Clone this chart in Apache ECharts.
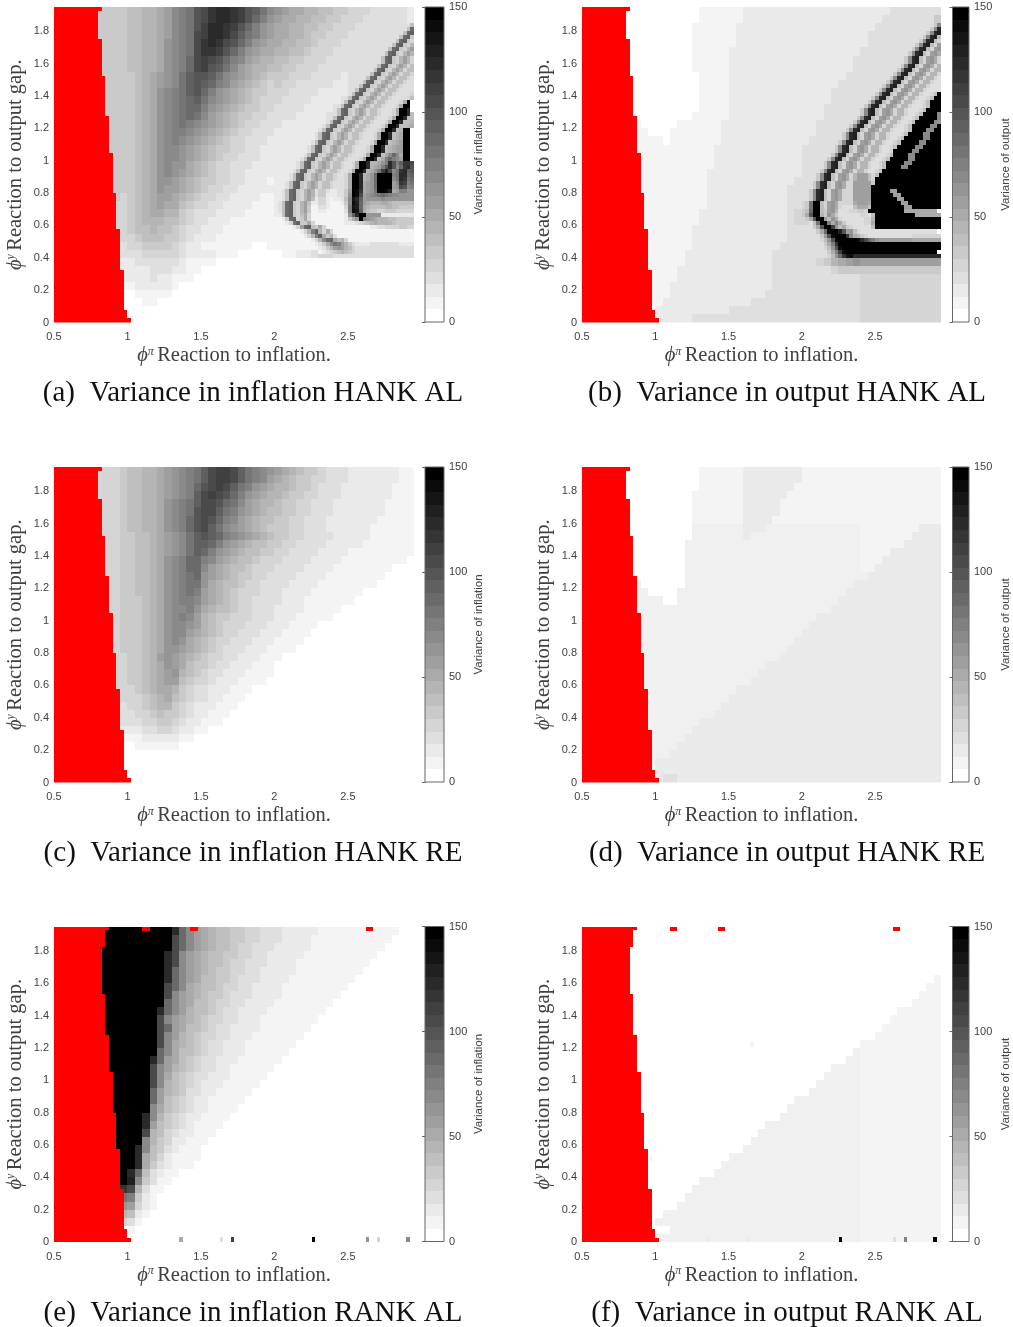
<!DOCTYPE html>
<html><head><meta charset="utf-8">
<style>html,body{margin:0;padding:0;background:#fff}#c{width:1013px;height:1327px}</style>
<script src="https://cdn.jsdelivr.net/npm/echarts@6/dist/echarts.min.js"></script>
</head><body><div id="c"></div>
<script>
const captions=["(a)  Variance in inflation HANK AL","(b)  Variance in output HANK AL","(c)  Variance in inflation HANK RE","(d)  Variance in output HANK RE","(e)  Variance in inflation RANK AL","(f)  Variance in output RANK AL"];
const barNames=["Variance of inflation","Variance of output","Variance of inflation","Variance of output","Variance of inflation","Variance of output"];
// shade index per cell (0-9,a-o = 0..24 of the 25 colour steps; x = a pale step between 1 and 2), top row first, phi from 0.5 in 0.05 steps
const rowsA=[
"......5555 667789bcdg hjkkjigfdb a988776655 444333332",
"......5555 667789bcdg hjkkjigeca 9887766554 443333332",
"......5555 667789bcdg ikkjigeca9 8877665544 43333333",
"......5555 667789bcdh ikkjhfdca9 8877655444 3333333",
"......5555 66778abcdh jkjhgeca98 8776654443 333333",
"......5555 66778abcdh jjigeca988 7766544433 33333",
"......5555 66778abceh ihgecb9877 6655444333 3333",
"......5555 66778abceh igfdb98776 6554443333 3333",
"......5555 56789abdfg gfdba98765 5544433332 333",
".......555 56789abdfg fecb987654 5443333322 33",
".......555 5678abcdfg eca9876554 4433332222 3",
".......555 5678abcdef dba9876544 4333322223",
".......555 5678abcdee ca98765544 333322223",
".......555 5678abcded b987655443 333222233",
".......555 5678abcdcb a987654433 32222222",
".......555 5678abccba 9876544333 2222222",
".......555 5678abcba9 8765443332 222222",
".......555 5678abba98 7655443322 22222",
"........55 5678abba98 7654433322 22222",
"........55 5678abaa87 6544333222 2222",
"........55 5678aba987 6544332222 222",
"........55 5678aa9876 5544332221 222",
"........55 5678a99876 5443322222 22",
"........54 5678998765 4433222211 22",
"........44 5678988654 4332222111 2",
"........44 5678877543 3322221111 2",
"........44 5677766543 3222111111 1",
"........44 5667665433 2221111111 1111",
".........4 4566655432 2211111111 11111",
".........3 4455554322 1111111001 111112",
".........3 3344444322 2211100000 0112234433 333333333",
".........2 2333333211 11",
".........2 2223332211",
".........2 2223221110",
".........1 1222221",
".........0 011111",
".........0 0011",
"..........",
".........."];
// finer cells for the ribbons, phi and y in 0.025 steps: [y step, phi step, shades running right]
const fineA=[
[73,96,"36"],[72,95,"36e"],[71,94,"36ef"],[70,93,"36ef5"],[69,92,"36ef54"],[68,91,"36ef547"],[67,90,"36ef5479"],[66,89,"36ef54797"],
[65,88,"36ef547974"],[64,88,"36ef547974"],[63,87,"36ef5479746"],[62,86,"36ef54797466"],[61,85,"36ef547974664"],[60,84,"36ef5479746643"],
[59,83,"36ef54797466433"],[58,82,"36ef547974664333"],[57,81,"36ef5479746643333"],[56,80,"36ef54797466433334"],[55,79,"36ef547974664333346"],
[54,78,"36ef54797466433348o"],[53,77,"36ef54797466433348oo"],[52,76,"36ef54797466433348ook"],[51,76,"36ef54797466433348ook6"],[50,75,"36ef54797466433348ook66"],
[49,74,"36ef54797466433348ook667"],[48,73,"36ef54797466433348ook6678"],[47,72,"36ef54797466433348ook67oo"],[46,71,"36ef54797466433348ook678oo"],[45,71,"36ef54797466433348ook678oo"],
[44,70,"36ef54797466433348ook6789oo"],[43,69,"36ef54797466433348ook67899oo"],[42,69,"36ef54797466433348ook67899oo"],[41,68,"36ef54797466433348ook68beb8oo"],[40,67,"36ef54797466433348ook68cecb9oo"],
[39,66,"36ef5479746643348ook778ackgcfjjh"],[38,66,"36ef5479746643348ook789cgkgbejkg"],[37,65,"36ef5479746643348ook78adilhbdjkfg"],[36,64,"36ef5479746643348ook78aeoooocdkkef"],[35,64,"36ef5479746643348ook78aeoooobdkjde"],
[34,63,"36ef54797466433348ook89aeoooo9bjicd"],[33,63,"36ef54797466433348ook89aeoooo9ahgbc"],
[32,62,"36ef547973553223359onj89adoonl89ccaa"],[31,62,"36ef54797355222335aonh9abcdedcbbaaaa"],[30,62,"36ef54796244212236bmkf9aaaabaaaaaaaa"],
[29,61,"36ef547962244211125bnle98777887666666"],[28,61,"36ef547951133211114cmle87666677665555"],[27,61,"36ef547951122111113cnmf86554455544444"],
[26,61,"26ef546841111111112afkooaaaa222222222"],[25,61,"125ef4584111111111258aoca987776655555"],[24,62,"124df5584111111112223456787777655555"],
[23,64,"1249ef658411111111111122334444554444"],[22,66,"1247cf74841111111111111111111111"],[21,67,"1247cf8573111111111111111111111"],[20,68,"11247bee8674111111111111111111"],
[19,70,"12358bdc97532222333333332222"],[18,70,"1123579a976433333333333333333"],[17,72,"12345676543333333333333333"]];
const rowsB=[
"......0000 0000001111 1122222222 2222222222 223333333",
"......0000 0000001111 1122222222 2222222222 233333335",
"......0000 0000011111 1222222222 2222222222 33333333",
"......0000 0000011111 1222222222 2222222223 3333333",
"......0000 0000011111 1222222222 2222222223 333333",
"......0000 0000011111 2222222222 2222222233 33333",
"......0000 0000011111 2222222222 2222222333 3333",
"......0000 0000011111 2222222222 2222222333 3333",
"......0000 0000001111 2222222222 2222223333 333",
".......000 0000001111 2222222222 2222233333 33",
".......000 0000001111 2222222222 2222333333 3",
".......000 0000001111 2222222222 2222333333",
".......000 0000001111 2222222222 222333333",
".......000 0000011111 2222222222 222333333",
".......100 0001111112 2222222222 22333333",
".......110 0011111112 2222222222 2233333",
".......111 1011111112 2222222222 233333",
".......111 1111111122 2222222222 33333",
"........11 1111111122 2222222222 33333",
"........11 1111111122 2222222222 3333",
"........11 1111111222 2222222222 333",
"........11 1111111222 2222222223 333",
"........11 1111111222 2222222233 33",
"........11 1111111222 2222222233 33",
"........11 1111111222 2222222233 4",
"........11 1111112222 2222222234 5",
"........11 1111112222 2222222234 4",
"........11 1111122222 2222222233 3",
".........1 1111122222 2222222233 3",
".........1 1111122222 2222222333 3",
".........1 1111222222 2222223333 3",
".........1 1111222222 2222223333 3345789a99 999999999",
".........1 1112222222 2222223333 3333455555 555555555",
".........1 1112222222 2222223333 3333333344 444444444",
".........1 1122222222 2222223333 3333333344 444444444",
".........1 1122222222 2222233333 3333333344 444444444",
".........1 1222222222 2223333333 3333333344 444444444",
"..........2222222222 3333333333 3333333344 444444444",
"..........2222233333 3333333333 3333333344 444444444"];
const fineB=[
[73,96,"5b"],[72,95,"5bk"],[71,94,"5bkl"],[70,93,"5bkl6"],[69,92,"5bkl64"],[68,91,"5bkl649"],[67,90,"5bkl649a"],[66,89,"5bkl649a8"],
[65,88,"5bkl649a84"],[64,88,"5bkl649a84"],[63,87,"5bkl649a847"],[62,86,"5bkl649a8477"],[61,85,"5bkl649a84774"],[60,84,"5bkl649a847743"],
[59,83,"5bkl649a8477433"],[58,82,"5bkl649a84774333"],[57,81,"5bkl649a847743333"],[56,80,"5bkl649a847743346o"],[55,79,"5bkl649a847743346oo"],
[54,78,"5bkl649a847743346ooo"],[53,77,"5bkl649a8477433346ooo"],[52,76,"5bkl649a8477433346oooo"],[51,76,"5bkl649a847743346oooob"],[50,75,"5bkl649a847743346ooooob"],
[49,74,"5bkl649a847743346oooooba"],[48,73,"5bkl649a847743346ooooobbo"],[47,72,"5bkl649a8477433346oooobboo"],[46,71,"5bkl649a8477433346oooobbooo"],[45,71,"5bkl649a847743346ooooobbooo"],
[44,70,"5bkl649a847743346ooooobboooo"],[43,69,"5bkl649a847743346ooooobbooooo"],[42,69,"5bkl649a84774334ooooobboooooo"],[41,68,"5bkl649a847743346oooobbooooooo"],[40,67,"5bkl649a847743346ooooobbooooooo"],
[39,66,"5bkl649a847743346ooooobboooooooo"],[38,66,"5bkl649a847743346oooobbooooooooo"],[37,65,"5bkl649a847743346oooooooooooooooo"],
[36,64,"5bkl649a847999646ooooooooooooooooo"],[35,64,"5bkl649a84799964oooooooooooooooooo"],[34,63,"5bkl649a844999995oooooooooooooooooo"],[33,63,"5bkl649a84499999ooooooooooooooooooo"],
[32,62,"5bkl649a844499999ooooo99oooooooooooo"],[31,62,"5bkl649a844499999oooooo99ooooooooooo"],[30,62,"5bkl649a844499999ooooooo99oooooooooo"],
[29,61,"5doo649a8444489998oooooooo99ooooooooo"],[28,61,"5doo649a8433368886ooooooooo99oooooooo"],[27,61,"6eoo659a733344554oooooooooo888888888"],
[26,61,"8goo75a853333334436ooooooooooo8888888"],[25,61,"58goo96a84333333447oooooooooooooooooo"],[24,62,"36dooc8b8533333448oooooooooooooooooo"],
[23,61,"3358gooia6854333336oooooooooooooooooo"],[22,61,"33358enoolg9a64333333333333333333333"],[21,61,"333359gnooojb875433333333333344444444"],
[20,61,"33334 6agnooooonkhecа99999999988888888".replace("а","a")],[19,61,"3333358cjoooooooooooooooooooooooooooooo"],[18,61,"333334 6agnooooooooooooooooooooooooooo"],
[17,61,"333333 58cinooooooooooooooooooooooooo"],[16,61,"33333346aejmnkkkkkkkkkkkkkkkkkkkkkkkk"]];
const rowsC=[
"......4445 667789abcd fhiihfdcba 9876554333 222222211",
"......4445 667789abcd fhiihfdcb9 8765544333 222222211",
"......4445 667789abce ghihfdca98 7765543332 222222111",
"......4445 667789abcf hihgeca987 7655443332 222222111",
"......4445 66778abcdf hhgedb9877 6554433322 222221111",
"......4445 66778abcdg hhfdca9876 6554433322 222221111",
"......4445 66778abceg hgecb98766 5544333222 222211111",
"......4445 66778abceg hfdba98765 5544333222 222111111",
"......4445 566789abdf gfecba9876 5544333322 222111111",
".......445 566789abdf feca987665 5443333222 221111111",
".......445 566789abdf eca9876655 4433332222 111111111",
".......445 56678abcee cb98766544 4333322221 111111110",
".......445 56678abcee b987665444 3333222211 111111",
".......445 56678abcde a987655443 3332222111 11111",
".......445 56678abcdd a876654433 3322221111 1111",
".......445 56678abcdc 9876544433 3222211111 11",
".......445 55678abccb 9876544333 3222111111 1",
".......445 55678abbca 8766544333 2222111110",
"........45 55678abcb9 7655444333 2221111100",
"........45 55678abba9 7654443332 2211110000",
"........45 55678abb98 7654433322 2111100000",
"........45 55678aba87 6544333222 1111",
"........45 55678aa987 6543332221 111",
"........44 55679a9876 5443322211 1",
"........44 55678a9865 5433222111",
"........44 556789a765 4332221111",
"........44 5567899654 4322211110",
"........44 4567887543 3222111",
".........4 4456786543 322111",
".........3 4456775432 22111",
".........3 3445655432 2111",
".........3 3344554322 111",
".........2 2233443221 1",
".........1 1122222110",
".........0 0111111",
".........",
".........",
"..........",
".........."];
const rowsD=[
"......0000 0000001111 1122222222 1111111111 111111111",
"......0000 0000001111 1122222222 1111111111 111111111",
"......0000 0000001111 1122222221 1111111111 111111111",
"......0000 0000011111 1122222211 1111111111 111111111",
"......0000 0000011111 1122222111 1111111111 111111111",
"......0000 0000011111 1122222111 1111111111 111111111",
"......0000 0000011111 1122221111 1111111111 111111111",
"......0000 00000xxxxx xx222xxxxx xxxxxxxx11 111111222",
"......0000 00000xxxxx xx2xxxxxxx xxxxxxxx11 111112222",
".......000 0000xxxxxx xxxxxxxxxx xxxxxxxx11 111122222",
".......000 0000xxxxxx xxxxxxxxxx xxxxxxxx11 112222222",
".......000 0000xxxxxx xxxxxxxxxx xxxxxxxx11 122222222",
".......000 0000xxxxxx xxxxxxxxxx xxxxxxxx11 222222222",
".......000 0000xxxxxx xxxxxxxxxx xxxxxxxxx2 222222222",
".......x00 0000xxxxxx xxxxxxxxxx xxxxxxx222 222222222",
".......xx0 000xxxxxxx xxxxxxxxxx xxxxxx2222 222222222",
".......xxx x00xxxxxxx xxxxxxxxxx xxxxx22222 222222222",
".......xxx xxxxxxxxxx xxxxxxxxxx xxxx222222 222222222",
"........xx xxxxxxxxxx xxxxxxxxxx xx22222222 222222222",
"........xx xxxxxxxxxx xxxxxxxxxx x222222222 222222222",
"........xx xxxxxxxxxx xxxxxxxxxx 2222222222 222222222",
"........xx xxxxxxxxxx xxxxxxxxx2 2222222222 222222222",
"........xx xxxxxxxxxx xxxxxxxx22 2222222222 222222222",
"........xx xxxxxxxxxx xxxxxxx222 2222222222 222222222",
"........xx xxxxxxxxxx xxxxx22222 2222222222 222222222",
"........xx xxxxxxxxxx xxxx222222 2222222222 222222222",
"........xx xxxxxxxxxx xxx2222222 2222222222 222222222",
"........xx xxxxxxxxxx x222222222 2222222222 222222222",
".........x xxxxxxxxxx 2222222222 2222222222 222222222",
".........x xxxxxxxxx2 2222222222 2222222222 222222222",
".........x xxxxxxxx22 2222222222 2222222222 222222222",
".........x xxxxxx2222 2222222222 2222222222 222222222",
".........x xxxxx22222 2222222222 2222222222 222222222",
".........x xxxx222222 2222222222 2222222222 222222222",
".........x xxx2222222 2222222222 2222222222 222222222",
".........x xx22222222 2222222222 2222222222 222222222",
".........x 2222222222 2222222222 2222222222 222222222",
"..........2222222222 2222222222 2222222222 222222222",
"..........2332222222 2222222222 2222222222 222222222"];
const rowsE=[
"......oooo oooooo keb9 8766554433 3222221111 11111110",
"......oooo oooooo heb9 8766554433 3222211111 111111",
"......oooo oooooo heb9 8766544333 2222211111 11111",
"......oooo oooookhb98 7665544332 2222111111 1111",
"......oooo oooookhb98 7665443332 2221111111 111",
"......oooo oooookeb98 7655443322 2221111111 11",
"......oooo oooookeb98 6655433322 2211111111 1",
"......oooo oooooheb87 6654433222 2111111111",
"......oooo oooooh b987 6554333222 211111111",
"......oooo oooooeb986 6544332222 1111111100",
"......oooo oooo keb976 6543322221 1111111000",
"......oooo ooooh b9876 5443322211 111111",
"......oooo oooohe9866 5433222211 11111",
"......oooo ooooh b9765 4433222111 1111",
"......oooo ooooh b8765 4332221111 111",
"......oooo oooo eb8665 4332221111 11",
"......oooo oook e98654 3322211111 1",
"......oooo oooh b97654 3322111111",
"........oo oooh b86543 3222111110",
"........oo oooh b76543 2221111100",
"........oo oooe 976533 2211111000",
"........oo oooe 965432 2111110",
"........oo ooob865432 21111",
"........oo ookb754322 1111",
"........oo ook9654321 111",
"........oo ooh7643221 11",
"........oo oob7542211 1",
"........oo okb6532111",
".........o ok86421111",
".........o ok8532111",
".........o ke63211",
".........o lb5311",
".........j h7311",
".........d c521",
".........a 9421",
".........7 621",
".........4 31",
"..........1",
".........."];
const rowsF=[
"......","......","......","......","......","......",
"......0000 0000000000 0000000000 0000000000 000000001",
"......0000 0000000000 0000000000 0000000000 000000011",
".......000 0000000000 0000000000 0000000000 000000111",
".......000 0000000000 0000000000 0000000000 000001111",
".......000 0000000000 0000000000 0000000000 000111111",
".......000 0000000000 0000000000 0000000000 001111111",
".......000 0000000000 0000000000 0000000000 011111111",
".......000 0000000000 0000000000 0000000000 111111111",
".......000 0000000000 0000000000 0000000011 111111111",
".......000 0000000000 0000000000 0000000x11 111111111",
".......000 0000000000 0000000000 000000xx11 111111111",
".......000 0000000000 0000000000 0000xxxx11 111111111",
"........00 0000000000 0000000000 000xxxxx11 111111111",
"........00 0000000000 0000000000 00xxxxxx11 111111111",
"........00 0000000000 0000000000 0xxxxxxx11 111111111",
"........00 0000000000 000000000x xxxxxxxx11 111111111",
"........00 0000000000 00000000xx xxxxxxxx11 111111111",
"........00 0000000000 0000000xxx xxxxxxxx11 111111111",
"........00 0000000000 00000xxxxx xxxxxxxx11 111111111",
"........00 0000000000 0000xxxxxx xxxxxxxx11 111111111",
"........00 0000000000 000xxxxxxx xxxxxxxx11 111111111",
".........0 0000000000 00xxxxxxxx xxxxxxxx11 111111111",
".........0 0000000000 xxxxxxxxxx xxxxxxxx11 111111111",
".........0 000000000x xxxxxxxxxx xxxxxxxx11 111111111",
".........0 00000000xx xxxxxxxxxx xxxxxxxx11 111111111",
".........0 000000xxxx xxxxxxxxxx xxxxxxxx11 111111111",
".........0 00000xxxxx xxxxxxxxxx xxxxxxxx11 111111111",
".........0 0000xxxxxx xxxxxxxxxx xxxxxxxx11 111111111",
".........0 000xxxxxxx xxxxxxxxxx xxxxxxxx11 111111111",
".........0 0xxxxxxxxx xxxxxxxxxx xxxxxxxx11 111111111",
".........0 xxxxxxxxxx xxxxxxxxxx xxxxxxxx11 111111111",
"..........00xxxxxxxx xxxxxxxxxx xxxxxxxx11 111111111",
"..........xxxxxxxxxx xxxxxxxxxx xxxxxxxx11 111111111"];
// unstable region: [y from, y to, phi edge]
const redHank=[[0,.025,1.027],[.025,.075,1],[.075,.325,.975],[.325,.575,.95],[.575,.8,.925],[.8,1.05,.9],[1.05,1.275,.875],[1.275,1.525,.85],[1.525,1.75,.825],[1.75,1.925,.8],[1.925,1.95,.825]];
const redRank=[[0,.025,1.027],[.025,.08,1],[.08,.33,.975],[.33,.575,.95],[.575,.8,.925],[.8,1.05,.9],[1.05,1.28,.875],[1.28,1.53,.85],[1.53,1.825,.825],[1.825,1.93,.85],[1.93,1.95,.875]];
const redSpotsRank=[[1.1,1.15],[1.428,1.477],[2.62,2.67]];
// isolated cells: [phi, y, shade]
const spotsE=[[1.364,0,8],[1.64,0,3],[1.714,0,18],[2.266,0,24],[2.634,0,10],[2.709,0,4],[2.91,0,11]];
const spotsF=[[1.364,0,2],[1.636,0,2],[2.264,0,24],[2.632,0,3],[2.707,0,12],[2.909,0,24],[1.66,1.205,1],[.975,.5,1]];
const barSteps=Array.from({length:25},(_,k)=>k);

const PHI0=.5,CELL=.05,FINE=.025,XMAX=2.95,YMAX=1.95,BAND=6;
const ink='#404040',serif='"Liberation Serif","DejaVu Serif",serif',sans='"Liberation Sans",Arial,sans-serif';
function shade(l){if(l<0)return '#ff0000';const g=Math.round(255*(1-l/24));return `rgb(${g},${g},${g})`;}
function lvl(ch){if(ch==='x')return 1.4;return parseInt(ch,25);}
function runs(str,x0,w,y0,y1,out,keepZero){
  const s=str.replace(/ /g,'');let j=0;
  while(j<s.length){
    const ch=s[j];let e=j+1;
    while(e<s.length&&s[e]===ch)e++;
    const a=x0+j*w,b=Math.min(XMAX,x0+e*w);
    if(ch!=='.'&&(ch!=='0'||keepZero)&&a<XMAX)out.push([a,b,y0,y1,lvl(ch)]);
    j=e;
  }
}
function cells(rows){const out=[],n=rows.length;rows.forEach((r,k)=>{const i=n-1-k;runs(r,PHI0,CELL,i*CELL,(i+1)*CELL,out,false);});return out;}
function fineCells(list){const out=[];(list||[]).forEach(f=>runs(f[2],PHI0+f[1]*FINE,FINE,f[0]*FINE,(f[0]+1)*FINE,out,true));return out;}
function redCells(edge,extra){
  const a=edge.map(e=>[PHI0,e[2],e[0],e[1],-1]);
  (extra||[]).forEach(e=>a.push([e[0],e[1],1.925,1.95,-1]));
  return a;
}
function spotCells(sp){return (sp||[]).map(s=>[s[0]-.0125,s[0]+.0125,s[1],s[1]+.03,s[2]]);}
function rect(params,api){
  const a=api.coord([api.value(0),api.value(3)]),b=api.coord([api.value(1),api.value(2)]);
  const x=Math.round(a[0]),y=Math.round(a[1]);
  return {type:'rect',shape:{x,y,width:Math.round(b[0])-x,height:Math.round(b[1])-y},style:{fill:shade(api.value(4))}};
}
const panels=[[rowsA,redHank,null,null,fineA],[rowsB,redHank,null,null,fineB],[rowsC,redHank],[rowsD,redHank],[rowsE,redRank,redSpotsRank,spotsE],[rowsF,redRank,redSpotsRank,spotsF]];
const lefts=[54,582],barLefts=[425,952.5],tops=[7,467,926.5],capTop=[374,834,1294],capX=[248,782];
const grid=[],xAxis=[],yAxis=[],series=[],title=[];
const rich={p:{fontFamily:serif,fontStyle:'italic',fontSize:20.5,color:ink},s:{fontFamily:serif,fontStyle:'italic',fontSize:12,color:ink,verticalAlign:'top',lineHeight:19},t:{fontFamily:serif,fontSize:20.5,color:ink}};
panels.forEach((p,n)=>{
  const c=n%2,r=Math.floor(n/2),g=grid.length;
  grid.push({left:lefts[c],top:tops[r],width:c?359:360,height:315.5});
  xAxis.push({gridIndex:g,type:'value',min:PHI0,max:XMAX,interval:.5,axisLine:{show:false},axisTick:{show:false},splitLine:{show:false},
    axisLabel:{showMaxLabel:false,color:ink,fontFamily:sans,fontSize:11,margin:9},
    name:'{p|ϕ}{s|π} {t|Reaction to inflation.}',nameLocation:'middle',nameGap:23,nameTextStyle:{rich}});
  yAxis.push({gridIndex:g,type:'value',min:0,max:YMAX,interval:.2,axisLine:{show:false},axisTick:{show:false},splitLine:{show:false},
    axisLabel:{showMaxLabel:false,color:ink,fontFamily:sans,fontSize:11,margin:5,formatter:v=>String(Math.round(v*10)/10)},
    name:'{p|ϕ}{s|y} {t|Reaction to output gap.}',nameLocation:'middle',nameGap:28,nameRotate:90,nameTextStyle:{rich}});
  const base={type:'custom',coordinateSystem:'cartesian2d',xAxisIndex:g,yAxisIndex:g,renderItem:rect,clip:true,silent:true,animation:false,progressive:0};
  series.push(Object.assign({},base,{data:cells(p[0])}));
  series.push(Object.assign({},base,{data:fineCells(p[4])}));
  series.push(Object.assign({},base,{data:spotCells(p[3])}));
  series.push(Object.assign({},base,{data:redCells(p[1],p[2])}));
  const h=grid.length;
  grid.push({left:barLefts[c],top:tops[r],width:19,height:315});
  xAxis.push({gridIndex:h,type:'value',min:0,max:1,show:false});
  yAxis.push({gridIndex:h,type:'value',min:0,max:150,interval:50,position:'right',
    axisLine:{show:true,lineStyle:{color:'#666',width:1}},axisTick:{show:true,inside:true,length:3,lineStyle:{color:'#666'}},splitLine:{show:false},
    axisLabel:{color:ink,fontFamily:sans,fontSize:11,margin:5},
    name:barNames[n],nameLocation:'middle',nameRotate:90,nameGap:c?31:29,nameTextStyle:{color:ink,fontFamily:sans,fontSize:11.5}});
  series.push(Object.assign({},base,{xAxisIndex:h,yAxisIndex:h,data:barSteps.map(k=>[0,1,k*BAND,(k+1)*BAND,k])}));
  series.push({type:'line',xAxisIndex:h,yAxisIndex:h,data:[[0,0],[1,0],[1,150],[0,150],[0,0]],symbol:'none',silent:true,animation:false,clip:false,lineStyle:{color:'#666',width:1}});
  title.push({text:captions[n],left:capX[c],top:capTop[r],textAlign:'center',textStyle:{fontFamily:serif,fontWeight:'normal',fontSize:29,color:'#111'}});
});
const chart=echarts.init(document.getElementById('c'),null,{renderer:'canvas'});
chart.setOption({backgroundColor:'#fff',animation:false,title,grid,xAxis,yAxis,series});
</script></body></html>
